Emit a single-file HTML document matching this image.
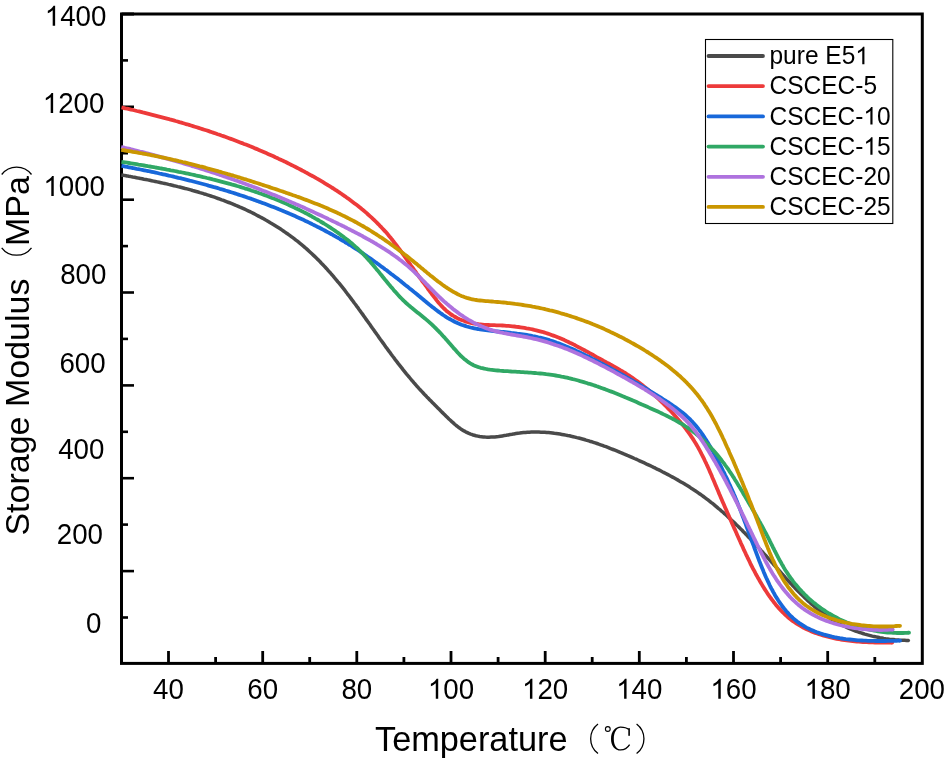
<!DOCTYPE html>
<html><head><meta charset="utf-8"><style>
html,body{margin:0;padding:0;background:#fff;width:944px;height:762px;overflow:hidden;font-family:"Liberation Sans",sans-serif;}
svg{display:block;will-change:transform;}
text{font-family:"Liberation Sans",sans-serif;}
</style></head><body>
<svg width="944" height="762" viewBox="0 0 944 762" font-family="Liberation Sans, sans-serif" fill="#000"><rect x="0" y="0" width="944" height="762" fill="#fff"/><rect x="121.5" y="14" width="800.8" height="649.4" fill="none" stroke="#000" stroke-width="3"/><line x1="121.5" y1="106.8" x2="134" y2="106.8" stroke="#000" stroke-width="2.6"/><line x1="121.5" y1="199.7" x2="134" y2="199.7" stroke="#000" stroke-width="2.6"/><line x1="121.5" y1="292.5" x2="134" y2="292.5" stroke="#000" stroke-width="2.6"/><line x1="121.5" y1="385.4" x2="134" y2="385.4" stroke="#000" stroke-width="2.6"/><line x1="121.5" y1="478.2" x2="134" y2="478.2" stroke="#000" stroke-width="2.6"/><line x1="121.5" y1="571.1" x2="134" y2="571.1" stroke="#000" stroke-width="2.6"/><line x1="121.5" y1="14" x2="134" y2="14" stroke="#000" stroke-width="3"/><line x1="121.5" y1="60.4" x2="128" y2="60.4" stroke="#000" stroke-width="2.6"/><line x1="121.5" y1="153.2" x2="128" y2="153.2" stroke="#000" stroke-width="2.6"/><line x1="121.5" y1="246.1" x2="128" y2="246.1" stroke="#000" stroke-width="2.6"/><line x1="121.5" y1="338.9" x2="128" y2="338.9" stroke="#000" stroke-width="2.6"/><line x1="121.5" y1="431.8" x2="128" y2="431.8" stroke="#000" stroke-width="2.6"/><line x1="121.5" y1="524.6" x2="128" y2="524.6" stroke="#000" stroke-width="2.6"/><line x1="121.5" y1="617.5" x2="128" y2="617.5" stroke="#000" stroke-width="2.6"/><line x1="168.5" y1="663.4" x2="168.5" y2="651" stroke="#000" stroke-width="2.8"/><line x1="262.7" y1="663.4" x2="262.7" y2="651" stroke="#000" stroke-width="2.8"/><line x1="356.8" y1="663.4" x2="356.8" y2="651" stroke="#000" stroke-width="2.8"/><line x1="451.0" y1="663.4" x2="451.0" y2="651" stroke="#000" stroke-width="2.8"/><line x1="545.2" y1="663.4" x2="545.2" y2="651" stroke="#000" stroke-width="2.8"/><line x1="639.3" y1="663.4" x2="639.3" y2="651" stroke="#000" stroke-width="2.8"/><line x1="733.5" y1="663.4" x2="733.5" y2="651" stroke="#000" stroke-width="2.8"/><line x1="827.7" y1="663.4" x2="827.7" y2="651" stroke="#000" stroke-width="2.8"/><line x1="215.6" y1="663.4" x2="215.6" y2="657" stroke="#000" stroke-width="2.8"/><line x1="309.7" y1="663.4" x2="309.7" y2="657" stroke="#000" stroke-width="2.8"/><line x1="403.9" y1="663.4" x2="403.9" y2="657" stroke="#000" stroke-width="2.8"/><line x1="498.1" y1="663.4" x2="498.1" y2="657" stroke="#000" stroke-width="2.8"/><line x1="592.2" y1="663.4" x2="592.2" y2="657" stroke="#000" stroke-width="2.8"/><line x1="686.4" y1="663.4" x2="686.4" y2="657" stroke="#000" stroke-width="2.8"/><line x1="780.6" y1="663.4" x2="780.6" y2="657" stroke="#000" stroke-width="2.8"/><line x1="874.8" y1="663.4" x2="874.8" y2="657" stroke="#000" stroke-width="2.8"/><path d="M121.3 174.9 L123.2 175.2 L125.1 175.6 L127.0 175.9 L128.9 176.3 L130.8 176.6 L132.7 177.0 L134.6 177.3 L136.5 177.7 L138.4 178.1 L140.3 178.4 L142.1 178.8 L144.0 179.2 L145.9 179.5 L147.8 179.9 L149.7 180.3 L151.6 180.7 L153.5 181.1 L155.3 181.5 L157.2 181.9 L159.1 182.3 L161.0 182.7 L162.8 183.1 L164.7 183.5 L166.6 183.9 L168.5 184.4 L170.3 184.8 L172.2 185.2 L174.1 185.7 L175.9 186.1 L177.8 186.6 L179.6 187.0 L181.5 187.5 L183.3 188.0 L185.2 188.5 L187.0 188.9 L188.9 189.4 L190.7 189.9 L192.6 190.5 L194.4 191.0 L196.2 191.5 L198.1 192.0 L199.9 192.6 L201.7 193.1 L203.6 193.7 L205.4 194.2 L207.2 194.8 L209.0 195.4 L210.8 196.0 L212.7 196.6 L214.5 197.2 L216.3 197.8 L218.1 198.5 L219.9 199.1 L221.7 199.8 L223.5 200.4 L225.2 201.1 L227.0 201.8 L228.8 202.5 L230.6 203.2 L232.4 203.9 L234.1 204.6 L235.9 205.4 L237.7 206.1 L239.4 206.9 L241.2 207.6 L242.9 208.4 L244.7 209.2 L246.4 210.0 L248.2 210.9 L249.9 211.7 L251.7 212.5 L253.4 213.4 L255.1 214.3 L256.8 215.2 L258.5 216.1 L260.2 217.0 L261.9 217.9 L263.6 218.8 L265.3 219.8 L267.0 220.7 L268.7 221.7 L270.3 222.7 L272.0 223.7 L273.7 224.7 L275.3 225.7 L276.9 226.7 L278.6 227.8 L280.2 228.8 L281.8 229.9 L283.4 231.0 L285.0 232.1 L286.6 233.2 L288.2 234.3 L289.7 235.4 L291.3 236.6 L292.8 237.7 L294.4 238.9 L295.9 240.1 L297.4 241.2 L298.9 242.4 L300.4 243.7 L301.9 244.9 L303.4 246.1 L304.8 247.4 L306.3 248.6 L307.7 249.9 L309.1 251.2 L310.5 252.5 L311.9 253.8 L313.3 255.1 L314.7 256.4 L316.1 257.7 L317.4 259.1 L318.8 260.4 L320.1 261.8 L321.4 263.2 L322.7 264.5 L324.0 265.9 L325.3 267.3 L326.6 268.7 L327.9 270.2 L329.2 271.6 L330.5 273.0 L331.7 274.5 L333.0 275.9 L334.2 277.4 L335.4 278.8 L336.7 280.3 L337.9 281.8 L339.1 283.2 L340.3 284.7 L341.5 286.2 L342.7 287.7 L343.9 289.2 L345.1 290.7 L346.2 292.2 L347.4 293.8 L348.6 295.3 L349.7 296.8 L350.9 298.4 L352.0 299.9 L353.2 301.4 L354.3 303.0 L355.5 304.5 L356.6 306.1 L357.8 307.6 L358.9 309.2 L360.0 310.7 L361.1 312.3 L362.3 313.9 L363.4 315.4 L364.5 317.0 L365.6 318.6 L366.7 320.1 L367.9 321.7 L369.0 323.3 L370.1 324.8 L371.2 326.4 L372.3 328.0 L373.4 329.5 L374.5 331.1 L375.7 332.7 L376.8 334.3 L377.9 335.8 L379.0 337.4 L380.1 339.0 L381.2 340.5 L382.4 342.1 L383.5 343.6 L384.6 345.2 L385.7 346.8 L386.9 348.3 L388.0 349.9 L389.1 351.4 L390.3 352.9 L391.4 354.5 L392.5 356.0 L393.7 357.5 L394.8 359.1 L396.0 360.6 L397.2 362.1 L398.3 363.6 L399.5 365.1 L400.7 366.6 L401.9 368.1 L403.0 369.6 L404.2 371.1 L405.4 372.6 L406.6 374.1 L407.9 375.6 L409.1 377.0 L410.3 378.5 L411.5 380.0 L412.8 381.4 L414.0 382.9 L415.3 384.3 L416.5 385.7 L417.8 387.1 L419.1 388.6 L420.4 390.0 L421.7 391.4 L423.0 392.8 L424.3 394.2 L425.6 395.5 L426.9 396.9 L428.3 398.3 L429.6 399.7 L431.0 401.1 L432.3 402.4 L433.7 403.8 L435.1 405.2 L436.4 406.5 L437.8 407.9 L439.2 409.3 L440.6 410.7 L441.9 412.1 L443.3 413.4 L444.7 414.8 L446.1 416.2 L447.5 417.6 L448.9 419.0 L450.4 420.3 L451.8 421.6 L453.3 422.9 L454.7 424.2 L456.2 425.5 L457.7 426.6 L459.2 427.8 L460.8 428.9 L462.4 429.9 L464.0 430.9 L465.6 431.8 L467.3 432.6 L468.9 433.4 L470.7 434.1 L472.4 434.7 L474.2 435.2 L476.0 435.7 L477.8 436.1 L479.7 436.5 L481.5 436.7 L483.4 436.9 L485.3 437.1 L487.2 437.2 L489.1 437.2 L491.0 437.1 L492.9 437.0 L494.8 436.9 L496.7 436.7 L498.6 436.5 L500.5 436.2 L502.4 435.9 L504.3 435.6 L506.2 435.3 L508.2 434.9 L510.1 434.6 L512.0 434.3 L513.9 433.9 L515.9 433.6 L517.8 433.3 L519.7 433.1 L521.6 432.8 L523.6 432.6 L525.5 432.5 L527.4 432.3 L529.4 432.2 L531.3 432.1 L533.2 432.1 L535.1 432.1 L537.1 432.1 L539.0 432.1 L540.9 432.2 L542.8 432.2 L544.8 432.3 L546.7 432.5 L548.6 432.6 L550.5 432.8 L552.4 433.0 L554.3 433.3 L556.2 433.5 L558.1 433.8 L560.0 434.1 L561.9 434.4 L563.8 434.7 L565.7 435.1 L567.6 435.5 L569.5 435.8 L571.3 436.3 L573.2 436.7 L575.0 437.1 L576.9 437.6 L578.7 438.0 L580.6 438.5 L582.4 439.0 L584.3 439.5 L586.1 440.1 L587.9 440.6 L589.7 441.2 L591.6 441.7 L593.4 442.3 L595.2 442.9 L597.0 443.5 L598.8 444.2 L600.6 444.8 L602.4 445.4 L604.2 446.1 L606.0 446.7 L607.8 447.4 L609.5 448.1 L611.3 448.8 L613.1 449.5 L614.9 450.2 L616.7 450.9 L618.4 451.6 L620.2 452.4 L622.0 453.1 L623.8 453.9 L625.5 454.6 L627.3 455.4 L629.1 456.1 L630.8 456.9 L632.6 457.7 L634.4 458.5 L636.1 459.2 L637.9 460.0 L639.6 460.8 L641.4 461.6 L643.2 462.4 L644.9 463.2 L646.7 464.1 L648.4 464.9 L650.2 465.7 L651.9 466.5 L653.7 467.4 L655.4 468.2 L657.1 469.1 L658.9 469.9 L660.6 470.8 L662.3 471.7 L664.1 472.6 L665.8 473.5 L667.5 474.4 L669.2 475.3 L670.9 476.2 L672.6 477.1 L674.3 478.0 L676.0 479.0 L677.6 479.9 L679.3 480.9 L681.0 481.9 L682.6 482.8 L684.3 483.8 L685.9 484.8 L687.6 485.8 L689.2 486.8 L690.8 487.9 L692.4 488.9 L694.0 490.0 L695.6 491.0 L697.2 492.1 L698.7 493.2 L700.3 494.3 L701.9 495.4 L703.4 496.5 L704.9 497.6 L706.5 498.8 L708.0 499.9 L709.5 501.1 L711.0 502.3 L712.5 503.4 L714.0 504.6 L715.4 505.8 L716.9 507.1 L718.3 508.3 L719.8 509.5 L721.2 510.8 L722.7 512.0 L724.1 513.3 L725.5 514.5 L726.9 515.8 L728.3 517.1 L729.7 518.4 L731.1 519.7 L732.5 521.0 L733.9 522.3 L735.3 523.6 L736.6 525.0 L738.0 526.3 L739.4 527.6 L740.7 529.0 L742.1 530.3 L743.4 531.7 L744.8 533.1 L746.1 534.4 L747.4 535.8 L748.7 537.2 L750.1 538.6 L751.4 540.0 L752.7 541.4 L754.0 542.8 L755.3 544.2 L756.6 545.6 L757.9 547.0 L759.2 548.4 L760.5 549.8 L761.8 551.3 L763.1 552.7 L764.4 554.1 L765.7 555.5 L767.0 557.0 L768.3 558.4 L769.6 559.9 L770.9 561.3 L772.2 562.7 L773.4 564.2 L774.7 565.6 L776.0 567.1 L777.3 568.5 L778.6 570.0 L779.9 571.4 L781.2 572.9 L782.4 574.3 L783.7 575.7 L785.0 577.2 L786.3 578.6 L787.6 580.0 L788.9 581.5 L790.2 582.9 L791.6 584.3 L792.9 585.7 L794.2 587.1 L795.5 588.5 L796.9 589.9 L798.2 591.2 L799.5 592.6 L800.9 594.0 L802.3 595.3 L803.6 596.6 L805.0 598.0 L806.4 599.3 L807.8 600.6 L809.2 601.8 L810.6 603.1 L812.0 604.4 L813.5 605.6 L814.9 606.8 L816.4 608.1 L817.8 609.3 L819.3 610.4 L820.8 611.6 L822.3 612.7 L823.8 613.9 L825.4 615.0 L826.9 616.0 L828.5 617.1 L830.1 618.2 L831.6 619.2 L833.3 620.2 L834.9 621.2 L836.5 622.1 L838.2 623.0 L839.8 624.0 L841.5 624.8 L843.2 625.7 L845.0 626.5 L846.7 627.3 L848.4 628.1 L850.2 628.9 L852.0 629.6 L853.8 630.3 L855.6 631.0 L857.4 631.7 L859.2 632.3 L861.1 632.9 L862.9 633.5 L864.8 634.1 L866.6 634.6 L868.5 635.1 L870.4 635.6 L872.3 636.1 L874.2 636.5 L876.1 636.9 L878.0 637.3 L879.9 637.7 L881.8 638.0 L883.7 638.4 L885.6 638.7 L887.5 638.9 L889.4 639.2 L891.3 639.4 L893.2 639.6 L895.1 639.8 L897.0 639.9 L898.9 640.1 L900.8 640.2 L902.7 640.3 L904.6 640.3 L906.5 640.4 L908.3 640.4" fill="none" stroke="#4A4A4A" stroke-width="3.5" stroke-linecap="butt" stroke-linejoin="round"/><circle cx="908.3" cy="640.4" r="1.75" fill="#4A4A4A"/><path d="M121.5 107.4 L123.4 107.8 L125.3 108.3 L127.3 108.7 L129.2 109.1 L131.1 109.6 L133.1 110.0 L135.0 110.5 L136.9 111.0 L138.9 111.4 L140.8 111.9 L142.8 112.4 L144.7 112.8 L146.6 113.3 L148.6 113.8 L150.5 114.3 L152.4 114.8 L154.4 115.3 L156.3 115.8 L158.2 116.3 L160.2 116.8 L162.1 117.3 L164.0 117.8 L166.0 118.3 L167.9 118.8 L169.8 119.4 L171.7 119.9 L173.7 120.4 L175.6 121.0 L177.5 121.5 L179.4 122.1 L181.4 122.6 L183.3 123.2 L185.2 123.8 L187.1 124.3 L189.0 124.9 L191.0 125.5 L192.9 126.1 L194.8 126.7 L196.7 127.3 L198.6 127.9 L200.5 128.5 L202.4 129.1 L204.3 129.7 L206.2 130.3 L208.2 130.9 L210.1 131.6 L212.0 132.2 L213.9 132.9 L215.8 133.5 L217.7 134.2 L219.5 134.8 L221.4 135.5 L223.3 136.1 L225.2 136.8 L227.1 137.5 L229.0 138.2 L230.9 138.9 L232.7 139.6 L234.6 140.3 L236.5 141.0 L238.4 141.7 L240.2 142.4 L242.1 143.1 L244.0 143.9 L245.8 144.6 L247.7 145.3 L249.6 146.1 L251.4 146.8 L253.3 147.6 L255.1 148.4 L257.0 149.1 L258.8 149.9 L260.7 150.7 L262.5 151.5 L264.3 152.3 L266.2 153.1 L268.0 153.9 L269.8 154.7 L271.7 155.5 L273.5 156.3 L275.3 157.2 L277.1 158.0 L278.9 158.9 L280.8 159.7 L282.6 160.6 L284.4 161.4 L286.2 162.3 L288.0 163.2 L289.8 164.1 L291.5 165.0 L293.3 165.9 L295.1 166.8 L296.9 167.7 L298.7 168.6 L300.4 169.5 L302.2 170.5 L304.0 171.4 L305.7 172.4 L307.5 173.3 L309.3 174.3 L311.0 175.3 L312.8 176.2 L314.5 177.2 L316.2 178.2 L318.0 179.2 L319.7 180.2 L321.4 181.2 L323.1 182.2 L324.9 183.3 L326.6 184.3 L328.3 185.4 L330.0 186.4 L331.7 187.5 L333.4 188.5 L335.0 189.6 L336.7 190.7 L338.4 191.8 L340.0 192.9 L341.7 194.0 L343.3 195.2 L345.0 196.3 L346.6 197.5 L348.2 198.6 L349.8 199.8 L351.4 201.0 L353.0 202.2 L354.6 203.4 L356.2 204.6 L357.8 205.8 L359.3 207.0 L360.9 208.3 L362.4 209.6 L363.9 210.8 L365.5 212.1 L367.0 213.4 L368.4 214.8 L369.9 216.1 L371.4 217.4 L372.9 218.8 L374.3 220.1 L375.7 221.5 L377.1 222.9 L378.5 224.3 L379.9 225.8 L381.3 227.2 L382.7 228.7 L384.0 230.1 L385.4 231.6 L386.7 233.1 L388.0 234.6 L389.3 236.2 L390.6 237.7 L391.8 239.3 L393.1 240.9 L394.3 242.5 L395.6 244.1 L396.8 245.7 L398.0 247.3 L399.2 248.9 L400.4 250.5 L401.6 252.2 L402.7 253.8 L403.9 255.4 L405.1 257.1 L406.2 258.7 L407.4 260.4 L408.5 262.0 L409.7 263.6 L410.8 265.3 L412.0 266.9 L413.2 268.5 L414.3 270.1 L415.5 271.7 L416.6 273.3 L417.8 274.9 L418.9 276.5 L420.1 278.1 L421.3 279.7 L422.4 281.3 L423.6 282.9 L424.8 284.4 L426.0 286.0 L427.2 287.7 L428.3 289.3 L429.5 290.9 L430.7 292.5 L431.9 294.2 L433.2 295.8 L434.4 297.4 L435.7 299.0 L436.9 300.6 L438.2 302.2 L439.5 303.7 L440.9 305.2 L442.2 306.7 L443.6 308.1 L445.1 309.5 L446.5 310.9 L448.0 312.1 L449.6 313.3 L451.1 314.5 L452.8 315.5 L454.4 316.5 L456.1 317.5 L457.8 318.4 L459.6 319.2 L461.4 319.9 L463.2 320.6 L465.0 321.3 L466.9 321.8 L468.7 322.4 L470.6 322.8 L472.6 323.3 L474.5 323.6 L476.5 323.9 L478.4 324.2 L480.4 324.4 L482.4 324.6 L484.4 324.8 L486.4 324.9 L488.4 325.0 L490.4 325.1 L492.4 325.1 L494.4 325.2 L496.4 325.3 L498.4 325.3 L500.5 325.4 L502.5 325.5 L504.5 325.6 L506.5 325.8 L508.5 325.9 L510.5 326.1 L512.5 326.3 L514.5 326.5 L516.5 326.8 L518.5 327.0 L520.5 327.3 L522.5 327.6 L524.5 327.9 L526.5 328.3 L528.5 328.6 L530.4 329.0 L532.4 329.4 L534.3 329.9 L536.3 330.3 L538.2 330.8 L540.1 331.3 L542.1 331.8 L544.0 332.4 L545.9 333.0 L547.8 333.6 L549.7 334.2 L551.5 334.9 L553.4 335.6 L555.3 336.3 L557.1 337.0 L559.0 337.7 L560.8 338.5 L562.6 339.3 L564.4 340.1 L566.2 341.0 L568.0 341.8 L569.8 342.7 L571.6 343.5 L573.4 344.4 L575.2 345.3 L577.0 346.3 L578.7 347.2 L580.5 348.1 L582.3 349.1 L584.0 350.0 L585.8 351.0 L587.6 351.9 L589.3 352.9 L591.1 353.9 L592.8 354.8 L594.6 355.8 L596.3 356.8 L598.1 357.8 L599.8 358.7 L601.6 359.7 L603.3 360.7 L605.1 361.6 L606.8 362.6 L608.6 363.5 L610.3 364.5 L612.1 365.5 L613.8 366.4 L615.6 367.4 L617.3 368.4 L619.0 369.4 L620.7 370.4 L622.5 371.4 L624.2 372.5 L625.9 373.5 L627.5 374.6 L629.2 375.7 L630.9 376.8 L632.5 377.9 L634.1 379.0 L635.8 380.2 L637.4 381.3 L639.0 382.5 L640.6 383.7 L642.2 384.9 L643.7 386.2 L645.3 387.4 L646.8 388.7 L648.4 389.9 L649.9 391.2 L651.4 392.5 L652.9 393.9 L654.4 395.2 L655.9 396.5 L657.4 397.9 L658.8 399.2 L660.3 400.6 L661.7 402.0 L663.2 403.4 L664.6 404.8 L666.0 406.2 L667.4 407.6 L668.8 409.1 L670.2 410.5 L671.6 412.0 L672.9 413.4 L674.3 414.9 L675.6 416.4 L676.9 417.9 L678.2 419.4 L679.5 420.9 L680.8 422.5 L682.1 424.0 L683.3 425.6 L684.5 427.1 L685.7 428.7 L686.9 430.3 L688.1 431.9 L689.2 433.5 L690.4 435.2 L691.5 436.8 L692.6 438.4 L693.7 440.1 L694.7 441.8 L695.8 443.5 L696.8 445.2 L697.8 446.9 L698.7 448.6 L699.7 450.4 L700.6 452.1 L701.5 453.9 L702.4 455.6 L703.3 457.4 L704.2 459.2 L705.0 461.0 L705.9 462.8 L706.7 464.6 L707.6 466.4 L708.4 468.2 L709.2 470.0 L710.0 471.9 L710.8 473.7 L711.6 475.5 L712.3 477.4 L713.1 479.2 L713.9 481.1 L714.7 482.9 L715.4 484.8 L716.2 486.6 L717.0 488.5 L717.8 490.3 L718.6 492.2 L719.3 494.0 L720.1 495.8 L720.9 497.7 L721.7 499.5 L722.5 501.4 L723.3 503.2 L724.1 505.1 L724.9 506.9 L725.7 508.7 L726.5 510.6 L727.3 512.4 L728.1 514.2 L728.9 516.1 L729.7 517.9 L730.5 519.7 L731.3 521.6 L732.1 523.4 L732.9 525.2 L733.7 527.1 L734.5 528.9 L735.4 530.7 L736.2 532.5 L737.0 534.4 L737.8 536.2 L738.6 538.0 L739.4 539.8 L740.2 541.6 L741.0 543.5 L741.9 545.3 L742.7 547.1 L743.5 548.9 L744.3 550.7 L745.2 552.5 L746.0 554.3 L746.9 556.1 L747.7 557.9 L748.6 559.7 L749.5 561.5 L750.3 563.3 L751.2 565.1 L752.1 566.9 L753.0 568.7 L754.0 570.4 L754.9 572.2 L755.8 574.0 L756.8 575.7 L757.8 577.5 L758.8 579.2 L759.8 581.0 L760.8 582.7 L761.8 584.4 L762.9 586.2 L763.9 587.9 L765.0 589.6 L766.1 591.3 L767.2 593.0 L768.3 594.7 L769.5 596.3 L770.7 598.0 L771.9 599.6 L773.1 601.2 L774.3 602.8 L775.6 604.4 L776.9 605.9 L778.2 607.4 L779.5 608.9 L780.9 610.4 L782.2 611.8 L783.7 613.2 L785.1 614.6 L786.5 615.9 L788.0 617.2 L789.5 618.5 L791.1 619.7 L792.6 620.9 L794.2 622.0 L795.9 623.1 L797.5 624.2 L799.2 625.2 L800.9 626.2 L802.6 627.2 L804.3 628.1 L806.1 629.0 L807.9 629.8 L809.7 630.6 L811.5 631.4 L813.4 632.2 L815.2 632.9 L817.1 633.5 L819.0 634.2 L820.9 634.8 L822.8 635.4 L824.8 636.0 L826.7 636.5 L828.7 637.0 L830.6 637.5 L832.6 637.9 L834.6 638.4 L836.6 638.8 L838.6 639.1 L840.6 639.5 L842.6 639.8 L844.6 640.1 L846.7 640.4 L848.7 640.7 L850.7 640.9 L852.7 641.1 L854.8 641.3 L856.8 641.5 L858.8 641.7 L860.9 641.9 L862.9 642.0 L864.9 642.1 L866.9 642.2 L868.9 642.3 L870.9 642.4 L872.9 642.4 L874.9 642.5 L876.8 642.5 L878.8 642.5 L880.8 642.6 L882.7 642.6 L884.6 642.6 L886.5 642.5 L888.4 642.5 L890.3 642.5 L892.2 642.5" fill="none" stroke="#ED3A3A" stroke-width="3.8" stroke-linecap="butt" stroke-linejoin="round"/><circle cx="892.2" cy="642.5" r="1.90" fill="#ED3A3A"/><path d="M121.5 165.9 L123.4 166.2 L125.3 166.6 L127.1 166.9 L129.0 167.3 L130.9 167.7 L132.8 168.0 L134.7 168.4 L136.6 168.8 L138.5 169.1 L140.4 169.5 L142.3 169.9 L144.2 170.3 L146.1 170.7 L148.0 171.0 L149.9 171.4 L151.7 171.8 L153.6 172.2 L155.5 172.6 L157.4 173.0 L159.3 173.5 L161.2 173.9 L163.1 174.3 L165.0 174.7 L166.9 175.1 L168.8 175.6 L170.7 176.0 L172.6 176.4 L174.5 176.9 L176.4 177.3 L178.3 177.8 L180.2 178.2 L182.1 178.7 L184.0 179.1 L185.9 179.6 L187.8 180.1 L189.7 180.6 L191.6 181.0 L193.4 181.5 L195.3 182.0 L197.2 182.5 L199.1 183.0 L201.0 183.5 L202.9 184.0 L204.8 184.5 L206.7 185.0 L208.5 185.6 L210.4 186.1 L212.3 186.6 L214.2 187.2 L216.1 187.7 L218.0 188.2 L219.8 188.8 L221.7 189.3 L223.6 189.9 L225.5 190.5 L227.3 191.0 L229.2 191.6 L231.1 192.2 L232.9 192.8 L234.8 193.4 L236.7 194.0 L238.5 194.6 L240.4 195.2 L242.2 195.8 L244.1 196.4 L245.9 197.0 L247.8 197.7 L249.6 198.3 L251.5 198.9 L253.3 199.6 L255.2 200.2 L257.0 200.9 L258.8 201.6 L260.7 202.2 L262.5 202.9 L264.3 203.6 L266.2 204.3 L268.0 205.0 L269.8 205.7 L271.6 206.4 L273.4 207.1 L275.3 207.8 L277.1 208.5 L278.9 209.3 L280.7 210.0 L282.5 210.7 L284.3 211.5 L286.1 212.2 L287.9 213.0 L289.7 213.8 L291.4 214.5 L293.2 215.3 L295.0 216.1 L296.8 216.9 L298.6 217.7 L300.3 218.5 L302.1 219.3 L303.9 220.1 L305.6 221.0 L307.4 221.8 L309.1 222.6 L310.9 223.5 L312.6 224.4 L314.3 225.2 L316.1 226.1 L317.8 227.0 L319.5 227.8 L321.3 228.7 L323.0 229.6 L324.7 230.5 L326.4 231.5 L328.1 232.4 L329.8 233.3 L331.5 234.2 L333.2 235.2 L334.9 236.1 L336.6 237.1 L338.3 238.0 L339.9 239.0 L341.6 240.0 L343.3 241.0 L344.9 242.0 L346.6 243.0 L348.2 244.0 L349.9 245.0 L351.5 246.0 L353.2 247.1 L354.8 248.1 L356.4 249.2 L358.1 250.2 L359.7 251.3 L361.3 252.4 L362.9 253.4 L364.5 254.5 L366.1 255.6 L367.7 256.7 L369.3 257.8 L370.9 258.9 L372.5 260.0 L374.1 261.2 L375.6 262.3 L377.2 263.4 L378.8 264.6 L380.3 265.7 L381.9 266.9 L383.5 268.0 L385.0 269.2 L386.6 270.3 L388.1 271.5 L389.7 272.7 L391.2 273.9 L392.8 275.1 L394.3 276.2 L395.9 277.4 L397.4 278.6 L398.9 279.8 L400.5 281.0 L402.0 282.3 L403.5 283.5 L405.0 284.7 L406.6 285.9 L408.1 287.1 L409.6 288.4 L411.1 289.6 L412.6 290.8 L414.2 292.1 L415.7 293.3 L417.2 294.5 L418.7 295.8 L420.2 297.0 L421.7 298.3 L423.2 299.5 L424.7 300.8 L426.2 302.0 L427.7 303.3 L429.2 304.5 L430.8 305.7 L432.3 306.9 L433.8 308.1 L435.3 309.3 L436.9 310.5 L438.4 311.6 L440.0 312.8 L441.6 313.9 L443.1 315.0 L444.7 316.0 L446.3 317.1 L447.9 318.1 L449.6 319.0 L451.2 319.9 L452.9 320.8 L454.6 321.7 L456.3 322.5 L458.0 323.3 L459.7 324.0 L461.5 324.7 L463.2 325.3 L465.0 325.9 L466.8 326.5 L468.7 327.0 L470.5 327.5 L472.4 327.9 L474.3 328.3 L476.1 328.7 L478.0 329.0 L480.0 329.4 L481.9 329.7 L483.8 329.9 L485.8 330.2 L487.7 330.4 L489.7 330.7 L491.6 330.9 L493.6 331.1 L495.6 331.3 L497.5 331.5 L499.5 331.7 L501.5 331.9 L503.4 332.0 L505.4 332.2 L507.4 332.4 L509.4 332.6 L511.3 332.9 L513.3 333.1 L515.2 333.3 L517.2 333.6 L519.1 333.8 L521.1 334.1 L523.0 334.4 L524.9 334.7 L526.8 335.0 L528.8 335.3 L530.7 335.7 L532.6 336.1 L534.5 336.4 L536.4 336.8 L538.3 337.3 L540.2 337.7 L542.0 338.2 L543.9 338.7 L545.8 339.2 L547.6 339.7 L549.5 340.2 L551.3 340.8 L553.1 341.4 L555.0 342.0 L556.8 342.7 L558.6 343.3 L560.4 344.0 L562.2 344.7 L564.0 345.4 L565.8 346.2 L567.6 346.9 L569.4 347.7 L571.2 348.4 L573.0 349.2 L574.7 350.0 L576.5 350.9 L578.3 351.7 L580.0 352.5 L581.8 353.4 L583.5 354.2 L585.3 355.1 L587.0 356.0 L588.8 356.8 L590.5 357.7 L592.2 358.6 L594.0 359.5 L595.7 360.4 L597.4 361.3 L599.2 362.2 L600.9 363.1 L602.6 364.0 L604.3 364.9 L606.1 365.8 L607.8 366.8 L609.5 367.7 L611.2 368.6 L612.9 369.6 L614.6 370.5 L616.3 371.4 L618.0 372.4 L619.7 373.3 L621.4 374.3 L623.1 375.2 L624.8 376.2 L626.5 377.2 L628.2 378.1 L629.9 379.1 L631.6 380.1 L633.3 381.1 L634.9 382.1 L636.6 383.0 L638.3 384.0 L640.0 385.0 L641.7 386.0 L643.3 387.0 L645.0 388.0 L646.7 389.0 L648.4 390.0 L650.0 391.1 L651.7 392.1 L653.4 393.1 L655.0 394.1 L656.7 395.1 L658.3 396.2 L660.0 397.2 L661.7 398.2 L663.3 399.3 L665.0 400.3 L666.6 401.4 L668.3 402.4 L669.9 403.5 L671.5 404.6 L673.1 405.7 L674.7 406.8 L676.3 407.9 L677.8 409.1 L679.4 410.2 L680.9 411.4 L682.4 412.6 L683.9 413.8 L685.4 415.0 L686.8 416.3 L688.2 417.6 L689.6 418.9 L690.9 420.3 L692.3 421.7 L693.5 423.1 L694.8 424.5 L696.1 426.0 L697.3 427.5 L698.5 429.0 L699.6 430.5 L700.8 432.0 L701.9 433.6 L703.0 435.2 L704.1 436.8 L705.1 438.4 L706.2 440.1 L707.2 441.7 L708.3 443.4 L709.3 445.1 L710.3 446.8 L711.2 448.5 L712.2 450.2 L713.2 451.9 L714.1 453.7 L715.1 455.4 L716.0 457.2 L716.9 458.9 L717.9 460.7 L718.8 462.4 L719.7 464.2 L720.6 466.0 L721.5 467.7 L722.4 469.5 L723.3 471.3 L724.2 473.0 L725.0 474.8 L725.9 476.6 L726.8 478.4 L727.6 480.1 L728.4 481.9 L729.2 483.7 L730.0 485.4 L730.8 487.2 L731.6 489.0 L732.4 490.7 L733.2 492.5 L733.9 494.3 L734.7 496.0 L735.4 497.8 L736.1 499.6 L736.9 501.3 L737.6 503.1 L738.3 504.9 L739.0 506.6 L739.7 508.4 L740.4 510.2 L741.1 511.9 L741.7 513.7 L742.4 515.5 L743.1 517.3 L743.8 519.1 L744.4 520.8 L745.1 522.6 L745.8 524.4 L746.4 526.2 L747.1 528.0 L747.8 529.8 L748.4 531.6 L749.1 533.4 L749.8 535.2 L750.4 537.0 L751.1 538.8 L751.7 540.7 L752.4 542.5 L753.1 544.3 L753.8 546.1 L754.4 548.0 L755.1 549.8 L755.8 551.7 L756.5 553.5 L757.2 555.4 L757.9 557.2 L758.6 559.1 L759.3 561.0 L760.1 562.9 L760.8 564.7 L761.5 566.6 L762.3 568.5 L763.1 570.3 L763.8 572.2 L764.6 574.1 L765.4 575.9 L766.2 577.7 L767.1 579.6 L767.9 581.4 L768.8 583.2 L769.6 585.0 L770.5 586.8 L771.4 588.6 L772.4 590.3 L773.3 592.1 L774.3 593.8 L775.2 595.5 L776.2 597.2 L777.3 598.8 L778.3 600.5 L779.4 602.1 L780.5 603.7 L781.6 605.2 L782.7 606.8 L783.9 608.3 L785.1 609.7 L786.3 611.2 L787.6 612.6 L788.8 614.0 L790.1 615.3 L791.5 616.6 L792.8 617.9 L794.2 619.1 L795.6 620.3 L797.1 621.5 L798.6 622.6 L800.1 623.7 L801.7 624.7 L803.3 625.7 L804.9 626.7 L806.5 627.6 L808.2 628.4 L809.9 629.3 L811.6 630.1 L813.4 630.8 L815.1 631.6 L816.9 632.3 L818.7 632.9 L820.6 633.5 L822.4 634.1 L824.3 634.7 L826.2 635.2 L828.1 635.7 L830.0 636.2 L832.0 636.7 L833.9 637.1 L835.9 637.5 L837.8 637.8 L839.8 638.2 L841.8 638.5 L843.8 638.8 L845.8 639.1 L847.8 639.3 L849.8 639.5 L851.8 639.7 L853.8 639.9 L855.9 640.1 L857.9 640.3 L859.9 640.4 L861.9 640.5 L863.9 640.6 L865.9 640.7 L867.9 640.8 L869.9 640.8 L871.9 640.9 L873.9 640.9 L875.8 641.0 L877.8 641.0 L879.7 641.0 L881.7 641.0 L883.6 641.0 L885.5 641.0 L887.4 640.9 L889.2 640.9 L891.1 640.9 L892.9 640.9 L894.7 640.8 L896.5 640.8 L898.3 640.7 L900.0 640.7" fill="none" stroke="#1868DA" stroke-width="3.8" stroke-linecap="butt" stroke-linejoin="round"/><circle cx="900.0" cy="640.7" r="1.90" fill="#1868DA"/><path d="M121.4 161.8 L123.3 162.1 L125.2 162.4 L127.1 162.7 L129.0 163.0 L130.9 163.3 L132.8 163.6 L134.7 163.9 L136.6 164.2 L138.5 164.6 L140.3 164.9 L142.2 165.2 L144.1 165.5 L146.0 165.8 L147.9 166.2 L149.9 166.5 L151.8 166.8 L153.7 167.1 L155.6 167.5 L157.5 167.8 L159.4 168.2 L161.3 168.5 L163.2 168.8 L165.1 169.2 L167.0 169.6 L168.9 169.9 L170.8 170.3 L172.7 170.6 L174.6 171.0 L176.6 171.4 L178.5 171.8 L180.4 172.1 L182.3 172.5 L184.2 172.9 L186.1 173.3 L188.0 173.7 L189.9 174.1 L191.8 174.5 L193.7 174.9 L195.6 175.4 L197.5 175.8 L199.4 176.2 L201.3 176.6 L203.2 177.1 L205.1 177.5 L207.0 178.0 L208.9 178.4 L210.8 178.9 L212.7 179.4 L214.6 179.8 L216.5 180.3 L218.4 180.8 L220.2 181.3 L222.1 181.8 L224.0 182.3 L225.9 182.8 L227.8 183.3 L229.6 183.8 L231.5 184.4 L233.4 184.9 L235.3 185.4 L237.1 186.0 L239.0 186.5 L240.8 187.1 L242.7 187.7 L244.6 188.3 L246.4 188.8 L248.3 189.4 L250.1 190.0 L251.9 190.7 L253.8 191.3 L255.6 191.9 L257.5 192.5 L259.3 193.2 L261.1 193.8 L262.9 194.5 L264.7 195.1 L266.6 195.8 L268.4 196.5 L270.2 197.2 L272.0 197.9 L273.8 198.6 L275.6 199.3 L277.4 200.1 L279.2 200.8 L280.9 201.5 L282.7 202.3 L284.5 203.1 L286.3 203.8 L288.0 204.6 L289.8 205.4 L291.5 206.2 L293.3 207.0 L295.0 207.9 L296.8 208.7 L298.5 209.5 L300.2 210.4 L302.0 211.3 L303.7 212.1 L305.4 213.0 L307.1 213.9 L308.8 214.8 L310.5 215.7 L312.2 216.7 L313.9 217.6 L315.5 218.6 L317.2 219.5 L318.9 220.5 L320.5 221.5 L322.2 222.5 L323.9 223.5 L325.5 224.5 L327.1 225.5 L328.8 226.6 L330.4 227.6 L332.0 228.7 L333.6 229.8 L335.2 230.9 L336.8 232.0 L338.4 233.1 L340.0 234.2 L341.5 235.4 L343.1 236.5 L344.6 237.7 L346.2 238.9 L347.7 240.1 L349.2 241.3 L350.7 242.6 L352.2 243.8 L353.7 245.1 L355.1 246.4 L356.6 247.7 L358.0 249.0 L359.4 250.3 L360.8 251.7 L362.2 253.0 L363.5 254.4 L364.8 255.8 L366.2 257.2 L367.5 258.7 L368.8 260.1 L370.1 261.5 L371.3 263.0 L372.6 264.5 L373.9 266.0 L375.1 267.4 L376.3 268.9 L377.6 270.4 L378.8 271.9 L380.0 273.4 L381.3 274.9 L382.5 276.5 L383.7 278.0 L384.9 279.5 L386.2 281.0 L387.4 282.5 L388.6 284.0 L389.9 285.5 L391.1 287.0 L392.4 288.4 L393.6 289.9 L394.9 291.4 L396.2 292.8 L397.5 294.3 L398.8 295.7 L400.1 297.1 L401.5 298.5 L402.8 299.8 L404.2 301.2 L405.6 302.5 L407.0 303.8 L408.5 305.1 L409.9 306.3 L411.4 307.6 L412.9 308.8 L414.4 310.0 L415.9 311.2 L417.4 312.4 L418.9 313.6 L420.4 314.8 L421.9 316.0 L423.4 317.2 L424.9 318.4 L426.3 319.6 L427.8 320.9 L429.2 322.1 L430.6 323.4 L432.0 324.7 L433.4 326.0 L434.8 327.4 L436.1 328.7 L437.5 330.1 L438.8 331.4 L440.2 332.8 L441.5 334.2 L442.8 335.7 L444.1 337.1 L445.4 338.6 L446.7 340.0 L448.0 341.5 L449.3 343.1 L450.6 344.6 L451.9 346.1 L453.2 347.6 L454.6 349.1 L455.9 350.6 L457.2 352.1 L458.6 353.5 L459.9 354.9 L461.3 356.3 L462.8 357.6 L464.2 358.9 L465.7 360.1 L467.2 361.3 L468.7 362.4 L470.3 363.4 L471.9 364.3 L473.6 365.2 L475.3 365.9 L477.0 366.6 L478.8 367.2 L480.6 367.8 L482.4 368.2 L484.3 368.7 L486.1 369.0 L488.0 369.4 L490.0 369.7 L491.9 369.9 L493.8 370.1 L495.8 370.3 L497.7 370.5 L499.7 370.7 L501.6 370.8 L503.6 371.0 L505.6 371.1 L507.5 371.2 L509.5 371.3 L511.4 371.5 L513.4 371.6 L515.3 371.7 L517.3 371.8 L519.2 371.9 L521.1 372.1 L523.1 372.2 L525.0 372.3 L527.0 372.4 L528.9 372.6 L530.8 372.7 L532.7 372.8 L534.7 373.0 L536.6 373.2 L538.5 373.3 L540.4 373.5 L542.4 373.7 L544.3 373.9 L546.2 374.2 L548.1 374.4 L550.0 374.6 L551.9 374.9 L553.8 375.2 L555.7 375.5 L557.6 375.8 L559.5 376.2 L561.4 376.6 L563.3 376.9 L565.2 377.3 L567.0 377.7 L568.9 378.2 L570.8 378.6 L572.7 379.1 L574.5 379.5 L576.4 380.0 L578.3 380.5 L580.1 381.1 L582.0 381.6 L583.8 382.1 L585.7 382.7 L587.5 383.3 L589.4 383.8 L591.2 384.4 L593.1 385.0 L594.9 385.6 L596.8 386.3 L598.6 386.9 L600.4 387.6 L602.2 388.2 L604.1 388.9 L605.9 389.6 L607.7 390.2 L609.5 390.9 L611.4 391.6 L613.2 392.3 L615.0 393.1 L616.8 393.8 L618.6 394.5 L620.4 395.2 L622.2 396.0 L624.0 396.7 L625.8 397.5 L627.6 398.2 L629.4 399.0 L631.2 399.8 L633.0 400.6 L634.8 401.3 L636.6 402.1 L638.4 402.9 L640.1 403.7 L641.9 404.5 L643.7 405.2 L645.5 406.0 L647.3 406.8 L649.0 407.6 L650.8 408.4 L652.6 409.2 L654.3 410.0 L656.1 410.8 L657.9 411.6 L659.6 412.4 L661.4 413.2 L663.1 414.1 L664.8 414.9 L666.6 415.7 L668.3 416.6 L670.0 417.5 L671.7 418.3 L673.4 419.2 L675.1 420.1 L676.8 421.1 L678.4 422.0 L680.1 423.0 L681.7 423.9 L683.4 424.9 L685.0 426.0 L686.6 427.0 L688.2 428.1 L689.8 429.2 L691.3 430.3 L692.9 431.5 L694.4 432.6 L695.9 433.8 L697.4 435.1 L698.9 436.3 L700.4 437.6 L701.9 438.9 L703.3 440.2 L704.7 441.5 L706.1 442.8 L707.5 444.2 L708.9 445.6 L710.2 447.0 L711.6 448.4 L712.9 449.9 L714.2 451.3 L715.5 452.8 L716.8 454.3 L718.0 455.8 L719.2 457.3 L720.4 458.8 L721.6 460.3 L722.8 461.9 L724.0 463.4 L725.1 465.0 L726.2 466.5 L727.4 468.1 L728.5 469.7 L729.5 471.3 L730.6 472.9 L731.7 474.5 L732.7 476.1 L733.8 477.7 L734.8 479.4 L735.8 481.0 L736.8 482.6 L737.8 484.3 L738.8 485.9 L739.8 487.6 L740.8 489.2 L741.8 490.9 L742.8 492.6 L743.7 494.2 L744.7 495.9 L745.7 497.6 L746.7 499.2 L747.7 500.9 L748.6 502.6 L749.6 504.3 L750.6 505.9 L751.6 507.6 L752.5 509.3 L753.5 511.0 L754.5 512.6 L755.4 514.3 L756.4 516.0 L757.3 517.7 L758.3 519.4 L759.2 521.1 L760.2 522.8 L761.1 524.5 L762.1 526.2 L763.0 527.9 L763.9 529.6 L764.8 531.3 L765.7 533.0 L766.6 534.7 L767.5 536.5 L768.4 538.2 L769.3 539.9 L770.1 541.6 L771.0 543.4 L771.9 545.1 L772.7 546.8 L773.6 548.5 L774.5 550.3 L775.4 552.0 L776.2 553.7 L777.1 555.4 L778.0 557.1 L778.9 558.8 L779.8 560.5 L780.8 562.2 L781.7 563.9 L782.7 565.5 L783.6 567.2 L784.6 568.9 L785.6 570.5 L786.7 572.1 L787.7 573.7 L788.8 575.3 L789.9 576.9 L791.0 578.5 L792.2 580.0 L793.3 581.6 L794.5 583.1 L795.7 584.6 L797.0 586.1 L798.2 587.5 L799.5 589.0 L800.8 590.4 L802.1 591.8 L803.5 593.2 L804.8 594.6 L806.2 595.9 L807.6 597.3 L809.0 598.6 L810.5 599.9 L811.9 601.1 L813.4 602.4 L814.9 603.6 L816.4 604.8 L818.0 606.0 L819.5 607.1 L821.1 608.3 L822.7 609.4 L824.3 610.4 L825.9 611.5 L827.5 612.5 L829.1 613.5 L830.8 614.5 L832.5 615.5 L834.2 616.4 L835.9 617.3 L837.6 618.2 L839.3 619.1 L841.0 619.9 L842.8 620.7 L844.6 621.5 L846.3 622.3 L848.1 623.0 L849.9 623.7 L851.7 624.4 L853.5 625.0 L855.4 625.7 L857.2 626.3 L859.0 626.9 L860.9 627.4 L862.7 628.0 L864.6 628.5 L866.5 628.9 L868.4 629.4 L870.3 629.8 L872.2 630.2 L874.1 630.6 L876.0 630.9 L877.9 631.3 L879.8 631.5 L881.7 631.8 L883.7 632.1 L885.6 632.3 L887.5 632.5 L889.5 632.6 L891.4 632.7 L893.3 632.9 L895.3 632.9 L897.2 633.0 L899.2 633.0 L901.1 633.0 L903.1 633.0 L905.0 632.9 L907.0 632.8 L909.0 632.7" fill="none" stroke="#30A865" stroke-width="3.8" stroke-linecap="butt" stroke-linejoin="round"/><circle cx="909.0" cy="632.7" r="1.90" fill="#30A865"/><path d="M121.2 147.0 L123.1 147.4 L125.0 147.9 L126.8 148.3 L128.7 148.7 L130.6 149.2 L132.4 149.6 L134.3 150.1 L136.1 150.5 L138.0 151.0 L139.9 151.5 L141.7 151.9 L143.6 152.4 L145.4 152.9 L147.3 153.3 L149.1 153.8 L151.0 154.3 L152.8 154.8 L154.7 155.3 L156.6 155.8 L158.4 156.3 L160.2 156.8 L162.1 157.3 L163.9 157.8 L165.8 158.3 L167.6 158.8 L169.5 159.3 L171.3 159.8 L173.2 160.4 L175.0 160.9 L176.8 161.4 L178.7 161.9 L180.5 162.5 L182.3 163.0 L184.2 163.6 L186.0 164.1 L187.8 164.7 L189.7 165.2 L191.5 165.8 L193.3 166.3 L195.2 166.9 L197.0 167.5 L198.8 168.0 L200.6 168.6 L202.5 169.2 L204.3 169.8 L206.1 170.4 L207.9 170.9 L209.7 171.5 L211.6 172.1 L213.4 172.7 L215.2 173.3 L217.0 173.9 L218.8 174.5 L220.6 175.1 L222.4 175.8 L224.2 176.4 L226.0 177.0 L227.8 177.6 L229.7 178.3 L231.5 178.9 L233.3 179.5 L235.1 180.2 L236.9 180.8 L238.7 181.5 L240.5 182.1 L242.3 182.8 L244.0 183.4 L245.8 184.1 L247.6 184.7 L249.4 185.4 L251.2 186.1 L253.0 186.8 L254.8 187.4 L256.6 188.1 L258.4 188.8 L260.1 189.5 L261.9 190.2 L263.7 190.9 L265.5 191.6 L267.3 192.3 L269.0 193.0 L270.8 193.7 L272.6 194.4 L274.4 195.1 L276.1 195.8 L277.9 196.6 L279.7 197.3 L281.4 198.0 L283.2 198.7 L285.0 199.5 L286.7 200.2 L288.5 201.0 L290.2 201.7 L292.0 202.5 L293.8 203.2 L295.5 204.0 L297.3 204.7 L299.0 205.5 L300.8 206.3 L302.5 207.0 L304.3 207.8 L306.0 208.6 L307.8 209.4 L309.5 210.2 L311.2 211.0 L313.0 211.8 L314.7 212.6 L316.5 213.4 L318.2 214.2 L319.9 215.0 L321.7 215.8 L323.4 216.6 L325.1 217.4 L326.9 218.2 L328.6 219.1 L330.3 219.9 L332.0 220.7 L333.8 221.6 L335.5 222.4 L337.2 223.2 L338.9 224.1 L340.6 224.9 L342.3 225.8 L344.1 226.6 L345.8 227.5 L347.5 228.4 L349.2 229.2 L350.9 230.1 L352.6 231.0 L354.3 231.9 L356.0 232.8 L357.7 233.6 L359.4 234.5 L361.1 235.4 L362.8 236.3 L364.4 237.3 L366.1 238.2 L367.8 239.1 L369.5 240.0 L371.1 241.0 L372.8 241.9 L374.4 242.9 L376.1 243.8 L377.7 244.8 L379.4 245.8 L381.0 246.8 L382.6 247.8 L384.2 248.8 L385.8 249.9 L387.4 250.9 L389.0 251.9 L390.6 253.0 L392.1 254.1 L393.7 255.2 L395.2 256.3 L396.8 257.4 L398.3 258.5 L399.8 259.7 L401.3 260.8 L402.8 262.0 L404.3 263.2 L405.8 264.4 L407.2 265.6 L408.7 266.8 L410.1 268.1 L411.5 269.4 L412.9 270.6 L414.3 271.9 L415.7 273.3 L417.0 274.6 L418.4 275.9 L419.8 277.3 L421.1 278.6 L422.5 280.0 L423.8 281.3 L425.2 282.7 L426.5 284.1 L427.8 285.4 L429.2 286.8 L430.5 288.2 L431.9 289.6 L433.2 290.9 L434.6 292.3 L435.9 293.6 L437.3 295.0 L438.7 296.3 L440.1 297.6 L441.5 299.0 L442.9 300.3 L444.3 301.6 L445.7 302.8 L447.2 304.1 L448.6 305.3 L450.1 306.6 L451.6 307.8 L453.0 309.0 L454.5 310.1 L456.1 311.3 L457.6 312.4 L459.1 313.6 L460.7 314.7 L462.2 315.7 L463.8 316.8 L465.4 317.8 L467.0 318.8 L468.6 319.8 L470.2 320.7 L471.9 321.7 L473.5 322.6 L475.2 323.4 L476.9 324.3 L478.6 325.1 L480.3 325.8 L482.0 326.6 L483.8 327.3 L485.5 328.0 L487.3 328.6 L489.1 329.3 L490.9 329.8 L492.7 330.4 L494.5 330.9 L496.4 331.4 L498.2 331.8 L500.1 332.3 L502.0 332.7 L503.8 333.1 L505.7 333.4 L507.6 333.8 L509.5 334.2 L511.4 334.5 L513.3 334.8 L515.3 335.2 L517.2 335.5 L519.1 335.8 L521.0 336.1 L522.9 336.5 L524.8 336.8 L526.7 337.2 L528.6 337.6 L530.5 338.0 L532.4 338.4 L534.2 338.8 L536.1 339.2 L538.0 339.7 L539.8 340.2 L541.7 340.7 L543.5 341.2 L545.3 341.7 L547.2 342.2 L549.0 342.8 L550.8 343.4 L552.6 344.0 L554.4 344.6 L556.2 345.2 L558.0 345.8 L559.8 346.4 L561.6 347.1 L563.4 347.8 L565.1 348.4 L566.9 349.1 L568.7 349.8 L570.4 350.6 L572.2 351.3 L573.9 352.0 L575.7 352.8 L577.4 353.5 L579.1 354.3 L580.9 355.1 L582.6 355.9 L584.3 356.7 L586.0 357.5 L587.8 358.3 L589.5 359.2 L591.2 360.0 L592.9 360.8 L594.6 361.7 L596.3 362.5 L598.0 363.4 L599.7 364.3 L601.4 365.2 L603.1 366.0 L604.8 366.9 L606.5 367.8 L608.2 368.7 L609.9 369.6 L611.6 370.5 L613.3 371.4 L615.0 372.4 L616.6 373.3 L618.3 374.2 L620.0 375.1 L621.7 376.1 L623.4 377.0 L625.1 377.9 L626.7 378.9 L628.4 379.8 L630.1 380.8 L631.8 381.7 L633.4 382.7 L635.1 383.6 L636.8 384.6 L638.4 385.6 L640.1 386.6 L641.7 387.5 L643.4 388.5 L645.0 389.5 L646.7 390.5 L648.3 391.6 L649.9 392.6 L651.5 393.6 L653.1 394.7 L654.7 395.7 L656.3 396.8 L657.9 397.8 L659.5 398.9 L661.1 400.0 L662.6 401.1 L664.2 402.2 L665.7 403.3 L667.2 404.5 L668.8 405.6 L670.3 406.8 L671.8 407.9 L673.3 409.1 L674.7 410.3 L676.2 411.5 L677.6 412.7 L679.1 414.0 L680.5 415.2 L681.9 416.5 L683.3 417.8 L684.6 419.1 L686.0 420.5 L687.3 421.8 L688.6 423.2 L689.8 424.6 L691.1 426.1 L692.3 427.5 L693.5 429.0 L694.7 430.5 L695.9 432.0 L697.0 433.5 L698.1 435.1 L699.2 436.6 L700.3 438.2 L701.4 439.8 L702.5 441.4 L703.5 443.0 L704.6 444.6 L705.6 446.2 L706.6 447.9 L707.6 449.5 L708.6 451.1 L709.6 452.8 L710.6 454.4 L711.6 456.0 L712.6 457.7 L713.5 459.3 L714.5 461.0 L715.5 462.6 L716.4 464.3 L717.3 465.9 L718.3 467.6 L719.2 469.2 L720.1 470.9 L721.0 472.5 L722.0 474.2 L722.9 475.8 L723.8 477.5 L724.7 479.2 L725.6 480.8 L726.4 482.5 L727.3 484.2 L728.2 485.8 L729.1 487.5 L730.0 489.2 L730.8 490.9 L731.7 492.6 L732.6 494.3 L733.4 495.9 L734.3 497.6 L735.1 499.3 L736.0 501.0 L736.8 502.7 L737.7 504.4 L738.5 506.1 L739.4 507.8 L740.2 509.5 L741.0 511.2 L741.9 513.0 L742.7 514.7 L743.6 516.4 L744.4 518.1 L745.2 519.8 L746.1 521.6 L746.9 523.3 L747.7 525.0 L748.6 526.8 L749.4 528.5 L750.2 530.2 L751.1 532.0 L751.9 533.7 L752.8 535.5 L753.6 537.2 L754.4 539.0 L755.3 540.7 L756.1 542.5 L757.0 544.2 L757.8 546.0 L758.7 547.7 L759.6 549.5 L760.4 551.2 L761.3 553.0 L762.2 554.7 L763.1 556.5 L764.0 558.2 L764.9 559.9 L765.8 561.6 L766.7 563.3 L767.7 565.0 L768.6 566.7 L769.6 568.4 L770.5 570.1 L771.5 571.7 L772.5 573.4 L773.5 575.0 L774.6 576.6 L775.6 578.2 L776.6 579.8 L777.7 581.4 L778.8 582.9 L779.9 584.5 L781.0 586.0 L782.1 587.5 L783.3 589.0 L784.5 590.5 L785.7 591.9 L786.9 593.3 L788.1 594.7 L789.3 596.1 L790.6 597.5 L791.9 598.8 L793.2 600.1 L794.6 601.4 L795.9 602.6 L797.3 603.9 L798.7 605.1 L800.2 606.2 L801.7 607.4 L803.1 608.5 L804.7 609.6 L806.2 610.6 L807.8 611.6 L809.4 612.6 L811.0 613.6 L812.7 614.5 L814.3 615.4 L816.0 616.3 L817.7 617.1 L819.5 617.9 L821.2 618.7 L823.0 619.5 L824.8 620.2 L826.6 620.9 L828.4 621.5 L830.3 622.2 L832.1 622.8 L834.0 623.4 L835.9 623.9 L837.7 624.5 L839.6 625.0 L841.5 625.4 L843.5 625.9 L845.4 626.3 L847.3 626.7 L849.2 627.1 L851.2 627.4 L853.1 627.8 L855.0 628.1 L857.0 628.4 L858.9 628.6 L860.8 628.8 L862.8 629.1 L864.7 629.2 L866.6 629.4 L868.6 629.6 L870.5 629.7 L872.4 629.8 L874.3 629.8 L876.2 629.9 L878.1 629.9 L880.0 630.0 L881.8 630.0 L883.7 629.9 L885.5 629.9 L887.3 629.8 L889.1 629.7 L890.9 629.6 L892.7 629.5" fill="none" stroke="#AE72DE" stroke-width="3.8" stroke-linecap="butt" stroke-linejoin="round"/><circle cx="892.7" cy="629.5" r="1.90" fill="#AE72DE"/><path d="M121.2 149.9 L123.1 150.2 L125.1 150.5 L127.0 150.8 L129.0 151.1 L130.9 151.4 L132.8 151.8 L134.8 152.1 L136.7 152.4 L138.7 152.8 L140.6 153.1 L142.5 153.5 L144.5 153.8 L146.4 154.2 L148.3 154.5 L150.2 154.9 L152.2 155.3 L154.1 155.7 L156.0 156.1 L157.9 156.5 L159.8 156.9 L161.7 157.3 L163.7 157.7 L165.6 158.1 L167.5 158.5 L169.4 158.9 L171.3 159.3 L173.2 159.8 L175.1 160.2 L177.0 160.6 L178.9 161.1 L180.8 161.5 L182.7 162.0 L184.6 162.4 L186.5 162.9 L188.4 163.4 L190.3 163.8 L192.2 164.3 L194.1 164.8 L196.0 165.3 L197.8 165.8 L199.7 166.3 L201.6 166.7 L203.5 167.2 L205.4 167.7 L207.3 168.3 L209.2 168.8 L211.0 169.3 L212.9 169.8 L214.8 170.3 L216.7 170.8 L218.5 171.4 L220.4 171.9 L222.3 172.5 L224.2 173.0 L226.0 173.5 L227.9 174.1 L229.8 174.6 L231.6 175.2 L233.5 175.7 L235.4 176.3 L237.3 176.9 L239.1 177.4 L241.0 178.0 L242.9 178.6 L244.7 179.2 L246.6 179.7 L248.4 180.3 L250.3 180.9 L252.2 181.5 L254.0 182.1 L255.9 182.7 L257.8 183.3 L259.6 183.9 L261.5 184.5 L263.3 185.1 L265.2 185.7 L267.1 186.3 L268.9 186.9 L270.8 187.6 L272.6 188.2 L274.5 188.8 L276.4 189.4 L278.2 190.0 L280.1 190.7 L281.9 191.3 L283.8 191.9 L285.6 192.6 L287.5 193.2 L289.4 193.9 L291.2 194.5 L293.1 195.2 L294.9 195.8 L296.8 196.5 L298.6 197.1 L300.5 197.8 L302.3 198.5 L304.1 199.2 L306.0 199.9 L307.8 200.6 L309.6 201.3 L311.5 202.0 L313.3 202.7 L315.1 203.4 L316.9 204.1 L318.8 204.8 L320.6 205.6 L322.4 206.3 L324.2 207.1 L326.0 207.8 L327.8 208.6 L329.6 209.4 L331.4 210.2 L333.2 211.0 L334.9 211.8 L336.7 212.6 L338.5 213.4 L340.3 214.3 L342.0 215.1 L343.8 215.9 L345.5 216.8 L347.3 217.7 L349.0 218.6 L350.7 219.5 L352.5 220.4 L354.2 221.3 L355.9 222.2 L357.6 223.2 L359.3 224.1 L361.0 225.1 L362.7 226.0 L364.4 227.0 L366.0 228.0 L367.7 229.0 L369.4 230.0 L371.0 231.0 L372.7 232.1 L374.3 233.1 L376.0 234.1 L377.6 235.2 L379.2 236.3 L380.9 237.3 L382.5 238.4 L384.1 239.5 L385.7 240.6 L387.3 241.7 L388.9 242.8 L390.5 244.0 L392.1 245.1 L393.7 246.2 L395.3 247.4 L396.8 248.5 L398.4 249.7 L400.0 250.9 L401.5 252.0 L403.1 253.2 L404.6 254.4 L406.2 255.6 L407.7 256.8 L409.2 258.0 L410.7 259.2 L412.3 260.4 L413.8 261.7 L415.3 262.9 L416.8 264.1 L418.3 265.4 L419.8 266.6 L421.3 267.9 L422.8 269.1 L424.3 270.4 L425.8 271.6 L427.3 272.9 L428.8 274.1 L430.3 275.4 L431.9 276.6 L433.4 277.8 L434.9 279.0 L436.5 280.2 L438.0 281.4 L439.6 282.6 L441.2 283.8 L442.8 285.0 L444.4 286.1 L446.0 287.2 L447.7 288.3 L449.3 289.4 L451.0 290.4 L452.7 291.5 L454.4 292.4 L456.1 293.3 L457.8 294.2 L459.6 295.1 L461.3 295.9 L463.1 296.6 L464.9 297.3 L466.8 297.9 L468.6 298.4 L470.5 298.9 L472.3 299.3 L474.2 299.7 L476.2 300.0 L478.1 300.3 L480.0 300.5 L482.0 300.7 L483.9 300.9 L485.9 301.1 L487.8 301.2 L489.8 301.4 L491.8 301.5 L493.7 301.7 L495.7 301.8 L497.6 302.0 L499.6 302.2 L501.5 302.4 L503.5 302.5 L505.4 302.7 L507.4 303.0 L509.3 303.2 L511.3 303.4 L513.2 303.6 L515.2 303.9 L517.1 304.1 L519.0 304.4 L521.0 304.7 L522.9 305.0 L524.8 305.3 L526.8 305.6 L528.7 305.9 L530.6 306.2 L532.5 306.6 L534.4 306.9 L536.3 307.3 L538.3 307.7 L540.2 308.1 L542.1 308.5 L544.0 308.9 L545.9 309.4 L547.8 309.8 L549.7 310.3 L551.6 310.7 L553.5 311.2 L555.4 311.7 L557.2 312.2 L559.1 312.7 L561.0 313.3 L562.9 313.8 L564.8 314.4 L566.6 314.9 L568.5 315.5 L570.4 316.1 L572.2 316.7 L574.1 317.3 L575.9 317.9 L577.8 318.6 L579.6 319.2 L581.5 319.9 L583.3 320.5 L585.1 321.2 L587.0 321.9 L588.8 322.6 L590.6 323.3 L592.4 324.1 L594.2 324.8 L596.1 325.5 L597.9 326.3 L599.7 327.1 L601.5 327.8 L603.3 328.6 L605.0 329.4 L606.8 330.2 L608.6 331.0 L610.4 331.9 L612.2 332.7 L613.9 333.6 L615.7 334.4 L617.4 335.3 L619.2 336.2 L620.9 337.0 L622.7 337.9 L624.4 338.8 L626.1 339.8 L627.9 340.7 L629.6 341.6 L631.3 342.6 L633.0 343.5 L634.7 344.5 L636.4 345.5 L638.1 346.4 L639.8 347.4 L641.5 348.4 L643.2 349.4 L644.9 350.5 L646.5 351.5 L648.2 352.5 L649.8 353.6 L651.5 354.6 L653.1 355.7 L654.7 356.8 L656.4 357.9 L658.0 359.0 L659.6 360.1 L661.2 361.2 L662.7 362.4 L664.3 363.5 L665.9 364.7 L667.4 365.8 L669.0 367.0 L670.5 368.2 L672.0 369.5 L673.5 370.7 L675.0 371.9 L676.5 373.2 L677.9 374.5 L679.4 375.7 L680.8 377.0 L682.2 378.4 L683.6 379.7 L685.0 381.0 L686.4 382.4 L687.7 383.8 L689.1 385.2 L690.4 386.6 L691.7 388.0 L693.0 389.5 L694.3 391.0 L695.5 392.4 L696.8 393.9 L698.0 395.5 L699.2 397.0 L700.3 398.6 L701.5 400.1 L702.6 401.7 L703.8 403.3 L704.8 405.0 L705.9 406.6 L707.0 408.3 L708.0 409.9 L709.1 411.6 L710.1 413.3 L711.1 415.0 L712.1 416.7 L713.0 418.5 L714.0 420.2 L714.9 422.0 L715.9 423.7 L716.8 425.5 L717.7 427.3 L718.6 429.1 L719.5 430.8 L720.4 432.6 L721.2 434.4 L722.1 436.2 L722.9 438.0 L723.8 439.8 L724.6 441.6 L725.4 443.4 L726.2 445.2 L727.0 447.0 L727.9 448.8 L728.7 450.6 L729.4 452.4 L730.2 454.2 L731.0 456.0 L731.8 457.8 L732.6 459.6 L733.4 461.3 L734.1 463.1 L734.9 464.9 L735.7 466.7 L736.4 468.4 L737.2 470.2 L737.9 472.0 L738.7 473.7 L739.4 475.5 L740.1 477.3 L740.9 479.1 L741.6 480.8 L742.4 482.6 L743.1 484.4 L743.8 486.1 L744.5 487.9 L745.3 489.7 L746.0 491.5 L746.7 493.3 L747.4 495.0 L748.1 496.8 L748.8 498.6 L749.5 500.4 L750.3 502.2 L751.0 504.0 L751.7 505.8 L752.4 507.6 L753.1 509.4 L753.8 511.2 L754.5 513.0 L755.2 514.9 L755.9 516.7 L756.6 518.5 L757.3 520.4 L758.0 522.2 L758.7 524.1 L759.4 525.9 L760.1 527.8 L760.8 529.7 L761.5 531.5 L762.2 533.4 L762.9 535.3 L763.6 537.2 L764.3 539.0 L765.1 540.9 L765.8 542.8 L766.5 544.7 L767.3 546.6 L768.0 548.4 L768.8 550.3 L769.5 552.2 L770.3 554.0 L771.1 555.9 L771.9 557.7 L772.7 559.5 L773.6 561.3 L774.4 563.1 L775.2 564.9 L776.1 566.7 L777.0 568.5 L777.9 570.2 L778.8 572.0 L779.8 573.7 L780.7 575.4 L781.7 577.1 L782.7 578.8 L783.7 580.4 L784.7 582.0 L785.8 583.7 L786.9 585.2 L788.0 586.8 L789.1 588.3 L790.3 589.8 L791.5 591.3 L792.7 592.8 L793.9 594.2 L795.2 595.6 L796.4 597.0 L797.8 598.3 L799.1 599.7 L800.5 600.9 L801.9 602.2 L803.3 603.4 L804.8 604.6 L806.3 605.7 L807.9 606.8 L809.4 607.9 L811.0 608.9 L812.7 609.9 L814.3 610.9 L816.0 611.8 L817.7 612.7 L819.4 613.6 L821.2 614.4 L823.0 615.2 L824.8 616.0 L826.6 616.8 L828.4 617.5 L830.3 618.2 L832.2 618.8 L834.1 619.4 L836.0 620.0 L837.9 620.6 L839.8 621.1 L841.8 621.6 L843.7 622.1 L845.7 622.6 L847.7 623.0 L849.6 623.4 L851.6 623.8 L853.6 624.1 L855.6 624.4 L857.6 624.7 L859.6 625.0 L861.6 625.3 L863.6 625.5 L865.6 625.7 L867.6 625.9 L869.6 626.0 L871.6 626.1 L873.5 626.3 L875.5 626.4 L877.5 626.4 L879.4 626.5 L881.4 626.5 L883.3 626.5 L885.2 626.5 L887.1 626.5 L889.0 626.4 L890.9 626.4 L892.8 626.3 L894.6 626.2 L896.4 626.0 L898.2 625.9 L900.0 625.8" fill="none" stroke="#CA9600" stroke-width="3.8" stroke-linecap="butt" stroke-linejoin="round"/><circle cx="900.0" cy="625.8" r="1.90" fill="#CA9600"/><g transform="translate(44.81 25.80) scale(1 1.050)"><path transform="translate(0.00 0) scale(0.01353 -0.01353)" d="M763 0H583V1098Q518 1038 412 979Q306 920 222 890V1057Q373 1125 486 1221Q599 1318 646 1409H763Z"/><text x="15.40" y="0" font-size="27.70">400</text></g><g transform="translate(42.81 112.90) scale(1 1.050)"><path transform="translate(0.00 0) scale(0.01353 -0.01353)" d="M763 0H583V1098Q518 1038 412 979Q306 920 222 890V1057Q373 1125 486 1221Q599 1318 646 1409H763Z"/><text x="15.40" y="0" font-size="27.70">200</text></g><g transform="translate(43.41 195.90) scale(1 1.050)"><path transform="translate(0.00 0) scale(0.01353 -0.01353)" d="M763 0H583V1098Q518 1038 412 979Q306 920 222 890V1057Q373 1125 486 1221Q599 1318 646 1409H763Z"/><text x="15.40" y="0" font-size="27.70">000</text></g><g transform="translate(60.21 283.80) scale(1 1.050)"><text x="0.00" y="0" font-size="27.70">800</text></g><g transform="translate(59.39 372.80) scale(1 1.050)"><text x="0.00" y="0" font-size="27.70">600</text></g><g transform="translate(58.16 458.90) scale(1 1.050)"><text x="0.00" y="0" font-size="27.70">400</text></g><g transform="translate(56.82 543.60) scale(1 1.050)"><text x="0.00" y="0" font-size="27.70">200</text></g><g transform="translate(86.02 632.60) scale(1 1.050)"><text x="0.00" y="0" font-size="27.70">0</text></g><g transform="translate(153.08 698.80) scale(1 1.050)"><text x="0.00" y="0" font-size="27.70">40</text></g><g transform="translate(247.25 698.80) scale(1 1.050)"><text x="0.00" y="0" font-size="27.70">60</text></g><g transform="translate(341.42 698.80) scale(1 1.050)"><text x="0.00" y="0" font-size="27.70">80</text></g><g transform="translate(427.89 698.80) scale(1 1.050)"><path transform="translate(0.00 0) scale(0.01353 -0.01353)" d="M763 0H583V1098Q518 1038 412 979Q306 920 222 890V1057Q373 1125 486 1221Q599 1318 646 1409H763Z"/><text x="15.40" y="0" font-size="27.70">00</text></g><g transform="translate(522.06 698.80) scale(1 1.050)"><path transform="translate(0.00 0) scale(0.01353 -0.01353)" d="M763 0H583V1098Q518 1038 412 979Q306 920 222 890V1057Q373 1125 486 1221Q599 1318 646 1409H763Z"/><text x="15.40" y="0" font-size="27.70">20</text></g><g transform="translate(616.23 698.80) scale(1 1.050)"><path transform="translate(0.00 0) scale(0.01353 -0.01353)" d="M763 0H583V1098Q518 1038 412 979Q306 920 222 890V1057Q373 1125 486 1221Q599 1318 646 1409H763Z"/><text x="15.40" y="0" font-size="27.70">40</text></g><g transform="translate(710.40 698.80) scale(1 1.050)"><path transform="translate(0.00 0) scale(0.01353 -0.01353)" d="M763 0H583V1098Q518 1038 412 979Q306 920 222 890V1057Q373 1125 486 1221Q599 1318 646 1409H763Z"/><text x="15.40" y="0" font-size="27.70">60</text></g><g transform="translate(804.57 698.80) scale(1 1.050)"><path transform="translate(0.00 0) scale(0.01353 -0.01353)" d="M763 0H583V1098Q518 1038 412 979Q306 920 222 890V1057Q373 1125 486 1221Q599 1318 646 1409H763Z"/><text x="15.40" y="0" font-size="27.70">80</text></g><g transform="translate(898.74 698.80) scale(1 1.050)"><text x="0.00" y="0" font-size="27.70">200</text></g><rect x="705.5" y="39.5" width="187.3" height="184" fill="#fff" stroke="#000" stroke-width="1.1"/><line x1="708.5" y1="56.0" x2="763" y2="56.0" stroke="#4A4A4A" stroke-width="3.8" stroke-linecap="round"/><g transform="translate(769.50 64.20) scale(1 1.040)"><text x="0.00" y="0" font-size="24.50">pure E5</text><path transform="translate(85.80 0) scale(0.01196 -0.01196)" d="M763 0H583V1098Q518 1038 412 979Q306 920 222 890V1057Q373 1125 486 1221Q599 1318 646 1409H763Z"/></g><line x1="708.5" y1="86.1" x2="763" y2="86.1" stroke="#ED3A3A" stroke-width="3.8" stroke-linecap="round"/><g transform="translate(769.50 94.30) scale(1 1.040)"><text x="0.00" y="0" font-size="24.50">CSCEC-5</text></g><line x1="708.5" y1="116.4" x2="763" y2="116.4" stroke="#1868DA" stroke-width="3.8" stroke-linecap="round"/><g transform="translate(769.50 124.60) scale(1 1.040)"><text x="0.00" y="0" font-size="24.50">CSCEC-</text><path transform="translate(93.91 0) scale(0.01196 -0.01196)" d="M763 0H583V1098Q518 1038 412 979Q306 920 222 890V1057Q373 1125 486 1221Q599 1318 646 1409H763Z"/><text x="107.53" y="0" font-size="24.50">0</text></g><line x1="708.5" y1="146.6" x2="763" y2="146.6" stroke="#30A865" stroke-width="3.8" stroke-linecap="round"/><g transform="translate(769.50 154.80) scale(1 1.040)"><text x="0.00" y="0" font-size="24.50">CSCEC-</text><path transform="translate(93.91 0) scale(0.01196 -0.01196)" d="M763 0H583V1098Q518 1038 412 979Q306 920 222 890V1057Q373 1125 486 1221Q599 1318 646 1409H763Z"/><text x="107.53" y="0" font-size="24.50">5</text></g><line x1="708.5" y1="176.8" x2="763" y2="176.8" stroke="#AE72DE" stroke-width="3.8" stroke-linecap="round"/><g transform="translate(769.50 185.00) scale(1 1.040)"><text x="0.00" y="0" font-size="24.50">CSCEC-20</text></g><line x1="708.5" y1="206.9" x2="763" y2="206.9" stroke="#CA9600" stroke-width="3.8" stroke-linecap="round"/><g transform="translate(769.50 215.10) scale(1 1.040)"><text x="0.00" y="0" font-size="24.50">CSCEC-25</text></g><text x="375" y="750.8" font-size="34.3">Temperature</text><path d="M598 723.9 A18.7 18.7 0 0 0 598 753.6" fill="none" stroke="#000" stroke-width="1.3"/><path d="M636.6 723.9 A18.7 18.7 0 0 1 636.6 753.6" fill="none" stroke="#000" stroke-width="1.3"/><circle cx="607.8" cy="729" r="2.4" fill="none" stroke="#000" stroke-width="1.1"/><path d="M620.8 726.5C615.2 726.5 611 731.5 611 738.9C611 746 615 750.6 620.8 750.6L620.8 749.3C616.5 749.3 613.8 745 613.8 738.9C613.8 732.5 616.5 727.8 620.8 727.8Z"/><path d="M620.6 727.15C623.8 727.15 626.8 727.8 628.8 729.6M620.6 749.95C624.6 749.95 627.6 747.8 629.6 744.6" fill="none" stroke="#000" stroke-width="1.3"/><rect x="628.3" y="728.2" width="1.6" height="7.6"/><g transform="translate(29.1 535.6) rotate(-90)"><text x="0" y="0" font-size="34">Storage Modulus</text></g><g transform="translate(29.1 533.6) rotate(-90)"><text x="287.6" y="0" font-size="34">MPa</text></g><path d="M1.7 247.8 A18.7 18.7 0 0 0 31.5 247.8" fill="none" stroke="#000" stroke-width="1.3"/><path d="M1.7 174.5 A18.7 18.7 0 0 1 31.5 174.5" fill="none" stroke="#000" stroke-width="1.3"/></svg>
</body></html>
